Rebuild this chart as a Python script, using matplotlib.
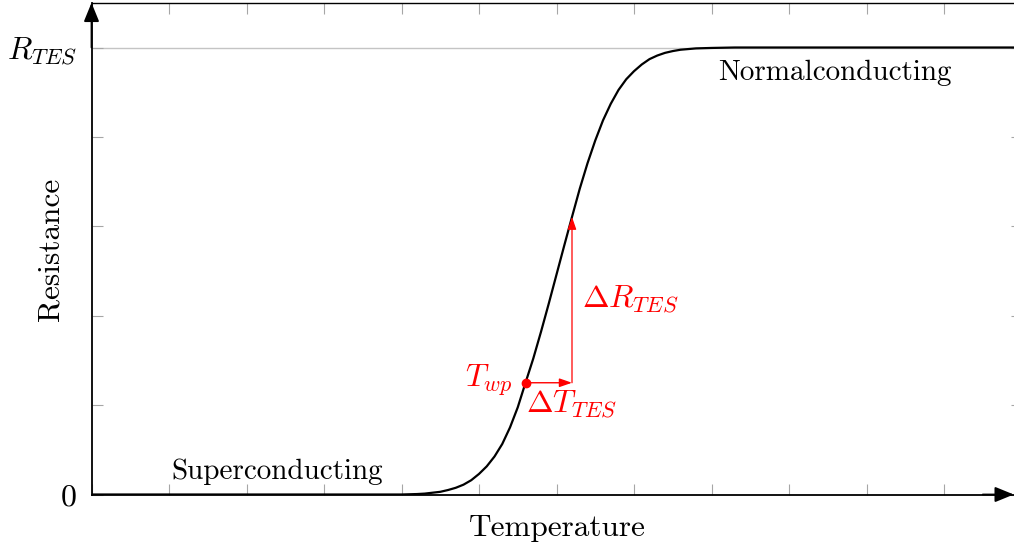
import matplotlib
matplotlib.use("Agg")
import matplotlib.pyplot as plt

plt.rcParams["font.family"] = "serif"
plt.rcParams["font.serif"] = ["cmr10"]
plt.rcParams["mathtext.fontset"] = "cm"
plt.rcParams["axes.unicode_minus"] = False
plt.rcParams["axes.formatter.use_mathtext"] = True

# Transition curve R(T) of the TES (R normalised to R_TES)
T_curve = [0.0, 4.0, 4.2, 4.3, 4.4, 4.5, 4.6, 4.7, 4.8, 4.9, 5.0, 5.1, 5.2,
           5.3, 5.4, 5.5, 5.6, 5.7, 5.8, 5.9, 6.0, 6.1, 6.2, 6.3, 6.4, 6.5,
           6.6, 6.7, 6.8, 6.9, 7.0, 7.1, 7.2, 7.3, 7.4, 7.5, 7.6, 7.8, 8.0,
           8.3, 12.0]
R_curve = [0.0, 0.0, 0.001, 0.002, 0.004, 0.006, 0.010, 0.015, 0.022, 0.032,
           0.046, 0.063, 0.085, 0.113, 0.150, 0.195, 0.250, 0.304, 0.364,
           0.427, 0.492, 0.557, 0.621, 0.684, 0.741, 0.792, 0.837, 0.874,
           0.905, 0.929, 0.947, 0.962, 0.974, 0.982, 0.988, 0.992, 0.995,
           0.998, 0.999, 1.0, 1.0]

# Working point and the small step used to illustrate the slope
T_wp, R_wp = 5.6, 0.25
T_step, R_step = 6.2, 0.621

y_ticks = [0.0, 0.2, 0.4, 0.6, 0.8, 1.0]
y_tick_labels = ["0", "", "", "", "", r"$R_{TES}$"]
x_ticks = list(range(0, 13))

FS = 21        # plain annotation text
FS_MATH = 23   # symbols
FS_LABEL = 22.5
RED = "#ff0000"
TICK = "#a6a6a6"

fig = plt.figure(figsize=(10.14, 5.46), dpi=100)
ax = fig.add_axes([91.5 / 1014, 51.5 / 546, 930 / 1014, 491.7 / 546])
ax.set_xlim(0, 12)
ax.set_ylim(0, 1.1)

# reference level of the normal-state resistance
ax.axhline(1.0, color="#c4c4c4", lw=1.0, zorder=0)

ax.plot(T_curve, R_curve, color="black", lw=1.6, zorder=3,
        solid_joinstyle="round")

# working point and slope arrows
ax.annotate("", xy=(T_step, R_wp), xytext=(T_wp, R_wp),
            arrowprops=dict(arrowstyle="-|>,head_length=0.75,head_width=0.26",
                            mutation_scale=10, lw=1.0, color=RED,
                            shrinkA=0, shrinkB=0), zorder=4)
ax.annotate("", xy=(T_step, R_step), xytext=(T_step, R_wp),
            arrowprops=dict(arrowstyle="-|>,head_length=0.75,head_width=0.26",
                            mutation_scale=10, lw=0.9, color=RED,
                            shrinkA=0, shrinkB=0), zorder=4)
ax.plot([T_wp], [R_wp], "o", color=RED, markersize=6, zorder=5)

ax.text(5.44, 0.2405, r"$T_{wp}$", color=RED, fontsize=FS_MATH,
        ha="right", va="baseline")
ax.text(5.61, 0.1846, r"$\Delta T_{TES}$", color=RED, fontsize=FS_MATH,
        ha="left", va="baseline")
ax.text(6.33, 0.4195, r"$\Delta R_{TES}$", color=RED, fontsize=FS_MATH,
        ha="left", va="baseline")

ax.text(2.39, 0.035, "Superconducting", fontsize=FS, ha="center", va="baseline")
ax.text(9.59, 0.927, "Normalconducting", fontsize=FS, ha="center", va="baseline")

# axes frame, ticks and labels
ax.set_xticks(x_ticks)
ax.set_xticklabels([""] * len(x_ticks))
ax.set_yticks(y_ticks)
ax.set_yticklabels(y_tick_labels, fontsize=FS_MATH)
ax.tick_params(direction="in", length=8, width=0.8, color=TICK,
               top=True, right=True, pad=10.5)

for side in ("left", "bottom"):
    ax.spines[side].set_linewidth(1.3)
    ax.spines[side].set_color("black")
ax.spines["top"].set_linewidth(1.0)
ax.spines["right"].set_linewidth(1.0)

head = "-|>,head_length=1.15,head_width=0.47"
ax.annotate("", xy=(0, 1.1), xytext=(0, 1.0),
            arrowprops=dict(arrowstyle=head, mutation_scale=10, lw=1.3,
                            color="black", shrinkA=0, shrinkB=0),
            annotation_clip=False, zorder=6)
ax.annotate("", xy=(11.9, 0), xytext=(11.5, 0),
            arrowprops=dict(arrowstyle=head, mutation_scale=10, lw=1.3,
                            color="black", shrinkA=0, shrinkB=0),
            annotation_clip=False, zorder=6)

ax.set_xlabel("Temperature", fontsize=FS_LABEL, va="baseline")
ax.xaxis.set_label_coords(0.5005, -0.0844)
ax.set_ylabel("Resistance", fontsize=FS_LABEL, va="baseline")
ax.yaxis.set_label_coords(-0.0355, 0.4993)

fig.savefig("out.png", dpi=100)
